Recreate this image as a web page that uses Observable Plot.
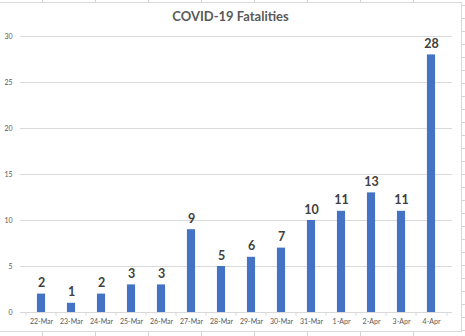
<!DOCTYPE html>
<html>
<head>
<meta charset="utf-8">
<script src="https://cdn.jsdelivr.net/npm/d3@7"></script>
<script src="https://cdn.jsdelivr.net/npm/@observablehq/plot@0.6"></script>
<style>
  html, body { margin: 0; padding: 0; background: #fff; }
  #wrap { position: relative; width: 465px; height: 336px; overflow: hidden; font-family: Lato, "Open Sans", sans-serif; }
  .strip { position: absolute; }
  #topstrip { left: 0; top: 0; width: 461px; height: 2px;
    background: repeating-linear-gradient(to right, transparent 0px, transparent 42px, #d4d4d4 42px, #d4d4d4 43px, transparent 43px, transparent 53px); }
  #botstrip { left: 0; top: 332px; width: 461px; height: 4px;
    background: repeating-linear-gradient(to right, transparent 0px, transparent 42px, #d4d4d4 42px, #d4d4d4 43px, transparent 43px, transparent 53px); }
  #rightstrip { left: 462px; top: 0; width: 3px; height: 336px;
    background: repeating-linear-gradient(to bottom, transparent 0px, transparent 5px, #d4d4d4 5px, #d4d4d4 6px, transparent 6px, transparent 13px); }
  #box { position: absolute; left: -1px; top: 2px; width: 463px; height: 330px; box-sizing: border-box; border: 1px solid #d9d9d9; }
  #title { position: absolute; left: 0; top: 10px; width: 461px; text-align: center; font-size: 13px; line-height: 13px; font-weight: bold; color: #595959; }
  #chart { position: absolute; left: 0; top: 0; }
</style>
</head>
<body>
<div id="wrap">
  <div class="strip" id="topstrip"></div>
  <div class="strip" id="botstrip"></div>
  <div class="strip" id="rightstrip"></div>
  <div id="box"></div>
  <div id="chart"></div>
  <div id="title">COVID-19 Fatalities</div>
</div>
<script>
const dates = ["22-Mar","23-Mar","24-Mar","25-Mar","26-Mar","27-Mar","28-Mar","29-Mar","30-Mar","31-Mar","1-Apr","2-Apr","3-Apr","4-Apr"];
const deaths = [2, 1, 2, 3, 3, 9, 5, 6, 7, 10, 11, 13, 11, 28];
const yTicks = [0, 5, 10, 15, 20, 25, 30];

const data = dates.map((d, i) => ({date: d, value: deaths[i]}));

const W = 465, H = 336;
const mL = 20, mR = 13, mT = 36, mB = 24;
const step = (W - mL - mR) / dates.length;
const barW = 9;

const chart = Plot.plot({
  width: W,
  height: H,
  marginLeft: mL,
  marginRight: mR,
  marginTop: mT,
  marginBottom: mB,
  style: {background: "transparent", fontFamily: "Lato, 'Open Sans', sans-serif", overflow: "visible"},
  x: {type: "band", domain: dates, padding: 0},
  y: {domain: [0, 30]},
  marks: [
    Plot.ruleY(yTicks.filter(t => t > 0), {stroke: "#d9d9d9", strokeWidth: 1}),
    Plot.ruleY([0], {stroke: "#d9d9d9", strokeWidth: 1}),
    Plot.ruleX(dates, {x: d => d, dx: -step / 2, y1: 0, y2: -0.4, stroke: "#d9d9d9"}),
    Plot.ruleX([dates[dates.length - 1]], {x: d => d, dx: step / 2, y1: 0, y2: -0.4, stroke: "#d9d9d9"}),
    Plot.barY(data, {x: "date", y: "value", fill: "#4472C4", insetLeft: (step - barW) / 2, insetRight: (step - barW) / 2}),
    Plot.text(data, {x: "date", y: "value", text: d => String(d.value), dy: -7, lineAnchor: "bottom", fontSize: 12.5, fontWeight: "bold", fill: "#404040"}),
    Plot.axisY({ticks: yTicks, tickSize: 0, tickPadding: 8, fontSize: 7, color: "#595959", label: null}),
    Plot.axisX({tickSize: 0, tickPadding: 7, fontSize: 7, color: "#595959", label: null})
  ]
});
document.getElementById("chart").appendChild(chart);
</script>
</body>
</html>
